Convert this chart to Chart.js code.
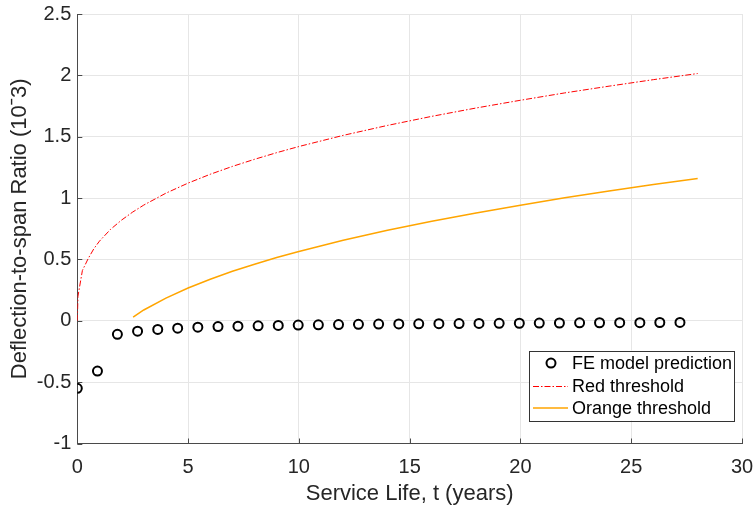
<!DOCTYPE html>
<html>
<head>
<meta charset="utf-8">
<script src="https://cdn.jsdelivr.net/npm/chart.js@4.4.0/dist/chart.umd.min.js"></script>
<style>
  html, body { margin: 0; padding: 0; background: #ffffff; }
  canvas { display: block; }
</style>
</head>
<body>
<canvas id="c" width="756" height="508"></canvas>
<script>
// ---- data ----
const feTime = [0, 0.91, 1.81, 2.72, 3.63, 4.53, 5.44, 6.35, 7.25, 8.16, 9.07, 9.97, 10.88, 11.79, 12.69,
  13.6, 14.51, 15.41, 16.32, 17.23, 18.13, 19.04, 19.95, 20.85, 21.76, 22.67, 23.57, 24.48, 25.39, 26.29, 27.2];
const feValue = [-0.55, -0.41, -0.11, -0.085, -0.07, -0.06, -0.052, -0.047, -0.044, -0.041, -0.038, -0.035, -0.033, -0.031, -0.029,
  -0.027, -0.026, -0.025, -0.024, -0.023, -0.022, -0.021, -0.02, -0.019, -0.018, -0.017, -0.016, -0.015, -0.015, -0.014, -0.013];

const redTime = [0, 0.03, 0.23, 0.5, 0.75, 1, 1.5, 2, 2.5, 3, 4, 5, 6, 7, 8, 9, 10, 12, 14, 16, 18, 20, 22, 24, 26, 28];
const redValue = [0, 0.2, 0.41, 0.51, 0.588, 0.649, 0.745, 0.821, 0.886, 0.943, 1.04, 1.122, 1.194, 1.258, 1.316, 1.37,
  1.42, 1.511, 1.592, 1.666, 1.734, 1.797, 1.857, 1.912, 1.965, 2.015];

const orangeTime = [2.52, 3, 4, 5, 6, 7, 8, 9, 10, 12, 14, 16, 18, 20, 22, 24, 26, 28];
const orangeValue = [0.03, 0.088, 0.185, 0.267, 0.339, 0.403, 0.461, 0.515, 0.565, 0.656, 0.737, 0.811, 0.879, 0.942,
  1.002, 1.057, 1.11, 1.16];

const xTicks = [0, 5, 10, 15, 20, 25, 30];
const yTicks = [-1, -0.5, 0, 0.5, 1, 1.5, 2, 2.5];

const seriesLabels = ['FE model prediction', 'Red threshold', 'Orange threshold'];
const xTitle = 'Service Life, t (years)';
const yTitle = 'Deflection-to-span Ratio (10\u02C93)';

// ---- helpers ----
const pts = (xs, ys) => xs.map((x, i) => ({ x: x, y: ys[i] }));
const FONT = '"Liberation Sans", Arial, sans-serif';
const AXIS_COLOR = '#4a4a4a';
const GRID_COLOR = '#e6e6e6';
const TEXT_COLOR = '#262626';
const RED = '#ff0000';
const ORANGE = '#ffa500';
const RED_DASH = [6, 2, 1.5, 2];

const innerTicks = {
  id: 'innerTicks',
  afterDatasetsDraw(chart) {
    const ctx = chart.ctx;
    const xs = chart.scales.x, ys = chart.scales.y;
    const a = chart.chartArea;
    ctx.save();
    ctx.strokeStyle = AXIS_COLOR;
    ctx.lineWidth = 1;
    ctx.beginPath();
    xTicks.forEach(v => {
      const px = Math.round(xs.getPixelForValue(v)) + 0.5;
      ctx.moveTo(px, a.bottom);
      ctx.lineTo(px, a.bottom - 5);
    });
    yTicks.forEach(v => {
      const py = Math.round(ys.getPixelForValue(v)) + 0.5;
      ctx.moveTo(a.left, py);
      ctx.lineTo(a.left + 5, py);
    });
    ctx.stroke();
    ctx.restore();
  }
};

const boxLegend = {
  id: 'boxLegend',
  afterDraw(chart) {
    const ctx = chart.ctx;
    const a = chart.chartArea;
    const w = 205, h = 70;
    const right = a.right - 8, bottom = a.bottom - 23;
    const left = right - w, top = bottom - h;
    ctx.save();
    ctx.fillStyle = '#ffffff';
    ctx.fillRect(left, top, w, h);
    ctx.strokeStyle = '#333333';
    ctx.lineWidth = 1;
    ctx.strokeRect(Math.round(left) + 0.5, Math.round(top) + 0.5, w, h);
    const rows = [top + 12.6, top + 36, top + 57.6];
    ctx.font = '18px ' + FONT;
    ctx.fillStyle = '#000000';
    ctx.textBaseline = 'middle';
    ctx.textAlign = 'left';
    ctx.beginPath();
    ctx.lineWidth = 2;
    ctx.strokeStyle = '#000000';
    ctx.arc(left + 22, rows[0], 4.5, 0, Math.PI * 2);
    ctx.stroke();
    ctx.beginPath();
    ctx.lineWidth = 1;
    ctx.strokeStyle = RED;
    ctx.setLineDash(RED_DASH);
    ctx.moveTo(left + 4, rows[1]);
    ctx.lineTo(left + 39, rows[1]);
    ctx.stroke();
    ctx.setLineDash([]);
    ctx.beginPath();
    ctx.lineWidth = 1.5;
    ctx.strokeStyle = ORANGE;
    ctx.moveTo(left + 4, rows[2]);
    ctx.lineTo(left + 39, rows[2]);
    ctx.stroke();
    seriesLabels.forEach((t, i) => ctx.fillText(t, left + 43, rows[i] + 1));
    ctx.restore();
  }
};

new Chart(document.getElementById('c'), {
  type: 'scatter',
  data: {
    datasets: [
      {
        label: seriesLabels[0],
        data: pts(feTime, feValue),
        showLine: false,
        pointStyle: 'circle',
        pointRadius: 4.5,
        pointBorderWidth: 2,
        pointBorderColor: '#000000',
        pointBackgroundColor: 'rgba(0,0,0,0)',
        order: 0
      },
      {
        label: seriesLabels[1],
        data: pts(redTime, redValue),
        showLine: true,
        borderColor: RED,
        borderWidth: 1,
        borderDash: RED_DASH,
        pointRadius: 0,
        tension: 0,
        fill: false,
        order: 1
      },
      {
        label: seriesLabels[2],
        data: pts(orangeTime, orangeValue),
        showLine: true,
        borderColor: ORANGE,
        borderWidth: 1.5,
        pointRadius: 0,
        tension: 0,
        fill: false,
        order: 2
      }
    ]
  },
  options: {
    responsive: false,
    animation: false,
    devicePixelRatio: 1,
    layout: { padding: { top: 14, right: 14, left: 0, bottom: 0 } },
    plugins: {
      legend: { display: false },
      tooltip: { enabled: false }
    },
    scales: {
      x: {
        type: 'linear',
        min: 0, max: 30,
        afterBuildTicks(s) { s.ticks = xTicks.map(v => ({ value: v })); },
        afterFit(s) { s.height = 64.5; s.paddingLeft = 0; s.paddingRight = 0; },
        grid: { color: GRID_COLOR, lineWidth: 1, drawTicks: false },
        border: { display: true, color: AXIS_COLOR, width: 1 },
        ticks: { color: TEXT_COLOR, font: { family: FONT, size: 20 }, padding: 12, maxRotation: 0,
          callback: v => String(v) },
        title: { display: true, text: xTitle, color: TEXT_COLOR, font: { family: FONT, size: 22 }, padding: { top: 0, bottom: 1 } }
      },
      y: {
        type: 'linear',
        min: -1, max: 2.5,
        afterBuildTicks(s) { s.ticks = yTicks.map(v => ({ value: v })); },
        afterFit(s) { s.width = 77.3; s.paddingTop = 0; s.paddingBottom = 0; },
        grid: { color: GRID_COLOR, lineWidth: 1, drawTicks: false },
        border: { display: true, color: AXIS_COLOR, width: 1 },
        ticks: { color: TEXT_COLOR, font: { family: FONT, size: 20 }, padding: 6,
          callback: v => String(v) },
        title: { display: true, text: yTitle, color: TEXT_COLOR, font: { family: FONT, size: 22 }, padding: { top: 7, bottom: 0 } }
      }
    }
  },
  plugins: [innerTicks, boxLegend]
});
</script>
</body>
</html>
